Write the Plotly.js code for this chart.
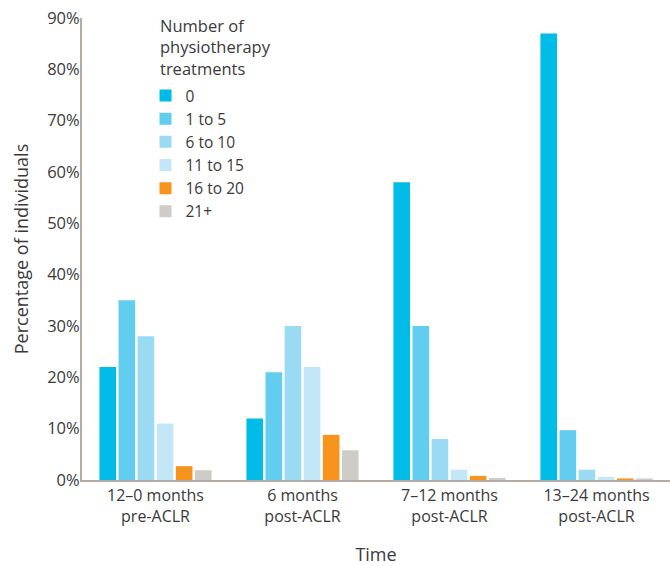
<!DOCTYPE html>
<html>
<head>
<meta charset="utf-8">
<script src="https://cdn.plot.ly/plotly-3.0.1.min.js"></script>
<style>html,body{margin:0;padding:0;background:#fff;}#chart{width:670px;height:566px;}</style>
</head>
<body>
<div id="chart"></div>
<script>
const categories = ["12–0 months<br>pre-ACLR", "6 months<br>post-ACLR", "7–12 months<br>post-ACLR", "13–24 months<br>post-ACLR"];
const seriesNames = ["0", "1 to 5", "6 to 10", "11 to 15", "16 to 20", "21+"];
const s0 = [22, 12, 58, 87];
const s1to5 = [35, 21, 30, 9.7];
const s6to10 = [28, 30, 8, 2];
const s11to15 = [11, 22, 2, 0.6];
const s16to20 = [2.7, 8.8, 0.8, 0.3];
const s21plus = [1.9, 5.8, 0.4, 0.3];
const seriesValues = [s0, s1to5, s6to10, s11to15, s16to20, s21plus];
const colors = ["#00bce6", "#62cdef", "#9adaf3", "#c4e7f7", "#f7941e", "#cfcbc7"];
const yTickVals = [0, 10, 20, 30, 40, 50, 60, 70, 80, 90];
const yTickText = ["0%", "10%", "20%", "30%", "40%", "50%", "60%", "70%", "80%", "90%"];
const legendTitle = "Number of<br>physiotherapy<br>treatments";

const font = "'Open Sans', 'Noto Sans', sans-serif";
const txt = "#3a3a3a";
const traces = seriesNames.map((n, i) => ({
  type: "bar",
  name: n,
  x: categories,
  y: seriesValues[i],
  marker: {color: colors[i]},
  hoverinfo: "skip"
}));

const layout = {
  width: 670, height: 566,
  margin: {l: 82, r: 0, t: 18, b: 86},
  paper_bgcolor: "#fff", plot_bgcolor: "#fff",
  font: {family: font, color: txt, size: 15},
  barmode: "group",
  bargap: 0.22,
  bargroupgap: 0.13,
  showlegend: true,
  legend: {
    x: 0.108, y: 0.868, xanchor: "left", yanchor: "top",
    bgcolor: "rgba(0,0,0,0)",
    font: {family: font, size: 15.5, color: txt},
    tracegroupgap: 0,
    itemwidth: 30
  },
  annotations: [{
    xref: "paper", yref: "paper", x: 0.129, y: 1.013,
    xanchor: "left", yanchor: "top", align: "left",
    showarrow: false, text: legendTitle,
    font: {family: font, size: 16.5, color: txt}
  }],
  xaxis: {
    type: "category",
    range: [-0.5, 3.5],
    showline: true, linecolor: "#b3aca6", linewidth: 2,
    showgrid: false, zeroline: false,
    ticks: "", tickfont: {family: font, size: 16, color: txt},
    title: {text: "Time", font: {family: font, size: 18, color: txt}, standoff: 22}
  },
  yaxis: {
    range: [0, 90],
    tickvals: yTickVals, ticktext: yTickText,
    showline: true, linecolor: "#b3aca6", linewidth: 2,
    showgrid: false, zeroline: false,
    ticks: "", ticklen: 0, ticklabelstandoff: -3,
    tickfont: {family: font, size: 16.5, color: txt},
    title: {text: "Percentage of individuals", font: {family: font, size: 18, color: txt}, standoff: 14}
  }
};
Plotly.newPlot("chart", traces, layout, {displayModeBar: false, staticPlot: true});
</script>
</body>
</html>
